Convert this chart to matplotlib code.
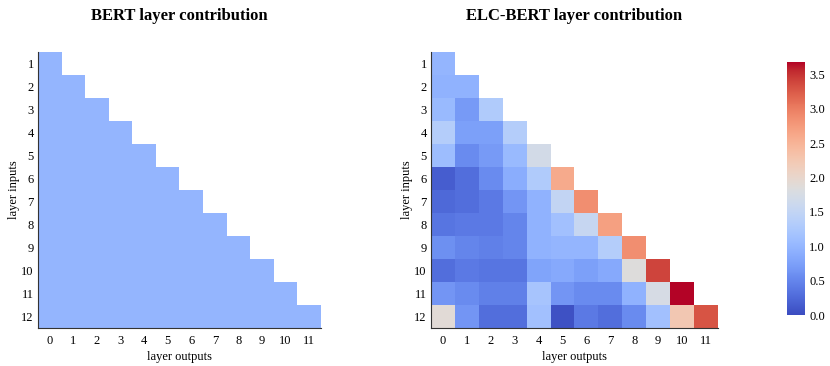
import numpy as np
import matplotlib
matplotlib.use("Agg")
import matplotlib.pyplot as plt

plt.rcParams['font.family'] = ['Liberation Serif', 'DejaVu Serif']

layer_inputs = [str(i) for i in range(1, 13)]
layer_outputs = [str(i) for i in range(0, 12)]

elc_rows = [
    [1.00],
    [0.95, 0.95],
    [1.05, 0.70, 1.30],
    [1.35, 0.75, 0.75, 1.35],
    [1.10, 0.55, 0.70, 1.05, 1.70],
    [0.15, 0.30, 0.55, 0.90, 1.30, 2.60],
    [0.25, 0.30, 0.40, 0.65, 0.95, 1.50, 2.85],
    [0.35, 0.40, 0.40, 0.50, 0.95, 1.15, 1.55, 2.70],
    [0.60, 0.50, 0.45, 0.50, 0.95, 1.00, 1.00, 1.35, 2.85],
    [0.30, 0.40, 0.35, 0.35, 0.80, 0.85, 0.75, 0.85, 1.85, 3.40],
    [0.65, 0.55, 0.45, 0.45, 1.20, 0.65, 0.55, 0.55, 0.95, 1.75, 3.68],
    [1.90, 0.65, 0.30, 0.30, 1.15, 0.05, 0.40, 0.30, 0.55, 1.15, 2.25, 3.30],
]
bert_value = 1.0

n = len(layer_inputs)
elc = np.full((n, n), np.nan)
bert = np.full((n, n), np.nan)
for i, row in enumerate(elc_rows):
    elc[i, :len(row)] = row
    bert[i, :i + 1] = bert_value

vmin, vmax = 0.0, 3.68
cmap = plt.get_cmap('coolwarm')

fig = plt.figure(figsize=(8.3, 3.66), dpi=100)
ax1 = fig.add_axes([38 / 830, 1 - 328 / 366, 283 / 830, 276 / 366])
ax2 = fig.add_axes([431 / 830, 1 - 328 / 366, 287 / 830, 276 / 366])
cax = fig.add_axes([787 / 830, 1 - 315 / 366, 18 / 830, 253 / 366])

for ax, data, title in [(ax1, bert, 'BERT layer contribution'),
                        (ax2, elc, 'ELC-BERT layer contribution')]:
    im = ax.imshow(np.ma.masked_invalid(data), cmap=cmap, vmin=vmin, vmax=vmax,
                   aspect='auto', interpolation='nearest')
    ax.set_xticks(range(n))
    ax.set_xticklabels(layer_outputs, fontsize=9)
    ax.set_yticks(range(n))
    ax.set_yticklabels(layer_inputs, fontsize=9)
    ax.tick_params(axis='y', length=0, pad=3)
    ax.tick_params(axis='x', length=0, pad=5)
    ax.set_xlabel('layer outputs', fontsize=9, labelpad=3)
    ax.set_ylabel('layer inputs', fontsize=9, labelpad=1)
    ax.set_title(title, fontsize=12, fontweight='bold', pad=23)
    for s in ['top', 'right']:
        ax.spines[s].set_visible(False)
    for s in ['left', 'bottom']:
        ax.spines[s].set_color('#333333')

cb = fig.colorbar(im, cax=cax)
cb.outline.set_visible(False)
cb.set_ticks([0.0, 0.5, 1.0, 1.5, 2.0, 2.5, 3.0, 3.5])
cb.ax.tick_params(length=0, labelsize=9, pad=3)

fig.savefig('out.png', dpi=100)
